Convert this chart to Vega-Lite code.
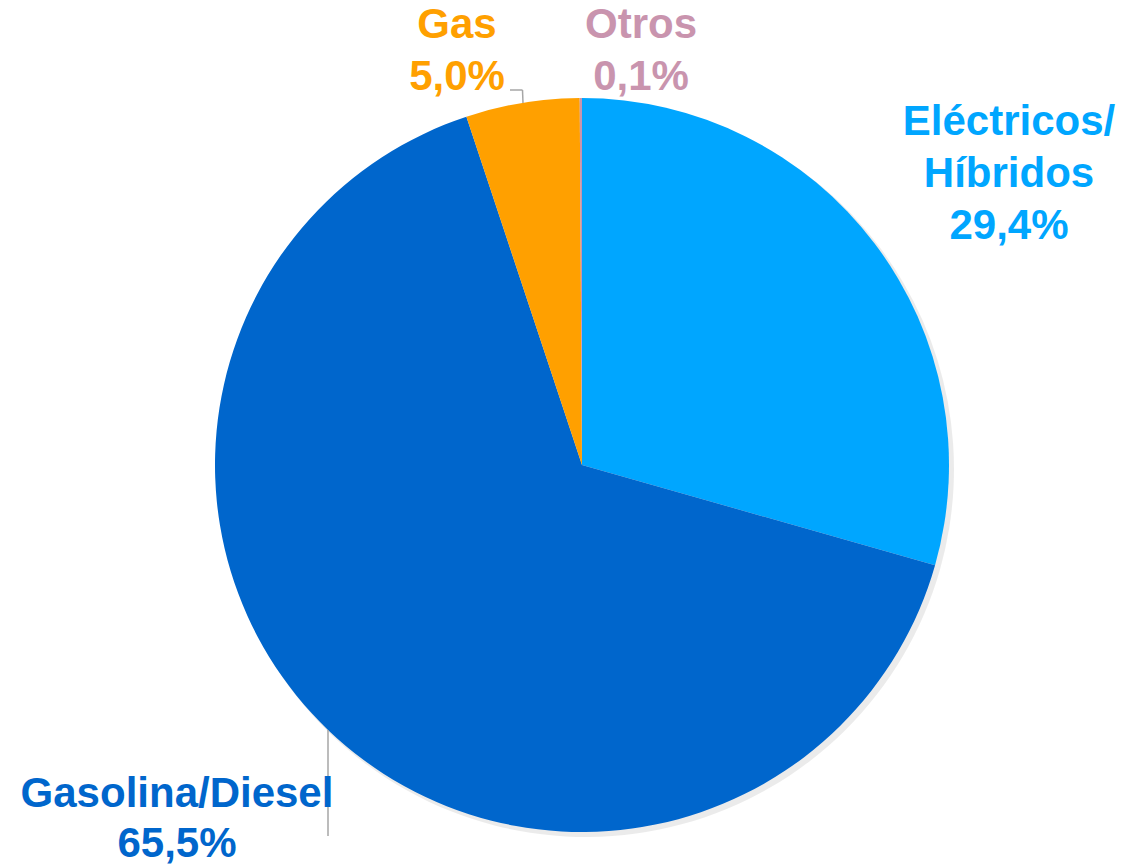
{
  "$schema": "https://vega.github.io/schema/vega-lite/v6.json",
  "width": 1123,
  "height": 865,
  "autosize": {"type": "none"},
  "padding": 0,
  "background": "white",
  "config": {"view": {"stroke": null}},
  "datasets": {
    "slices": [
      {"categoria": "Eléctricos/Híbridos", "valor": 29.4, "orden": 1, "etiqueta": "Eléctricos/\nHíbridos\n29,4%"},
      {"categoria": "Gasolina/Diesel", "valor": 65.5, "orden": 2, "etiqueta": "Gasolina/Diesel\n65,5%"},
      {"categoria": "Gas", "valor": 5.0, "orden": 3, "etiqueta": "Gas\n5,0%"},
      {"categoria": "Otros", "valor": 0.1, "orden": 4, "etiqueta": "Otros\n0,1%"}
    ]
  },
  "data": {"name": "slices"},
  "layer": [
    {
      "mark": {"type": "arc", "x": 586, "y": 469, "outerRadius": 368, "color": "#000000", "opacity": 0.08},
      "encoding": {
        "theta": {"field": "valor", "type": "quantitative", "stack": true},
        "order": {"field": "orden", "type": "quantitative"}
      }
    },
    {
      "mark": {"type": "arc", "x": 582, "y": 465, "outerRadius": 367},
      "encoding": {
        "theta": {"field": "valor", "type": "quantitative", "stack": true},
        "order": {"field": "orden", "type": "quantitative"},
        "color": {
          "field": "categoria",
          "type": "nominal",
          "scale": {
            "domain": ["Eléctricos/Híbridos", "Gasolina/Diesel", "Gas", "Otros"],
            "range": ["#00A6FF", "#0066CC", "#FFA000", "#C994AE"]
          },
          "legend": null
        }
      }
    },
    {
      "transform": [{"filter": "datum.categoria === 'Gas'"}],
      "mark": {"type": "rule", "color": "#A6A6A6", "strokeWidth": 1.5},
      "encoding": {"x": {"value": 510}, "x2": {"value": 522.5}, "y": {"value": 90}, "y2": {"value": 90}}
    },
    {
      "transform": [{"filter": "datum.categoria === 'Gas'"}],
      "mark": {"type": "rule", "color": "#A6A6A6", "strokeWidth": 1.5},
      "encoding": {"x": {"value": 522.5}, "x2": {"value": 523}, "y": {"value": 90}, "y2": {"value": 103}}
    },
    {
      "transform": [{"filter": "datum.categoria === 'Gasolina/Diesel'"}],
      "mark": {"type": "rule", "color": "#A6A6A6", "strokeWidth": 1.5},
      "encoding": {"x": {"value": 328}, "x2": {"value": 328}, "y": {"value": 730}, "y2": {"value": 836}}
    },
    {
      "transform": [{"filter": "datum.categoria === 'Eléctricos/Híbridos'"}],
      "mark": {"type": "text", "x": 1009, "y": 135, "align": "center", "baseline": "alphabetic", "lineBreak": "\n", "lineHeight": 52, "font": "Liberation Sans", "fontWeight": "bold", "fontSize": 42, "color": "#00A6FF"},
      "encoding": {"text": {"field": "etiqueta"}}
    },
    {
      "transform": [{"filter": "datum.categoria === 'Gasolina/Diesel'"}],
      "mark": {"type": "text", "x": 177, "y": 807, "align": "center", "baseline": "alphabetic", "lineBreak": "\n", "lineHeight": 50, "font": "Liberation Sans", "fontWeight": "bold", "fontSize": 42, "color": "#0066CC"},
      "encoding": {"text": {"field": "etiqueta"}}
    },
    {
      "transform": [{"filter": "datum.categoria === 'Gas'"}],
      "mark": {"type": "text", "x": 457, "y": 38, "align": "center", "baseline": "alphabetic", "lineBreak": "\n", "lineHeight": 52, "font": "Liberation Sans", "fontWeight": "bold", "fontSize": 42, "color": "#FFA000"},
      "encoding": {"text": {"field": "etiqueta"}}
    },
    {
      "transform": [{"filter": "datum.categoria === 'Otros'"}],
      "mark": {"type": "text", "x": 641, "y": 38, "align": "center", "baseline": "alphabetic", "lineBreak": "\n", "lineHeight": 52, "font": "Liberation Sans", "fontWeight": "bold", "fontSize": 42, "color": "#C994AE"},
      "encoding": {"text": {"field": "etiqueta"}}
    }
  ]
}
